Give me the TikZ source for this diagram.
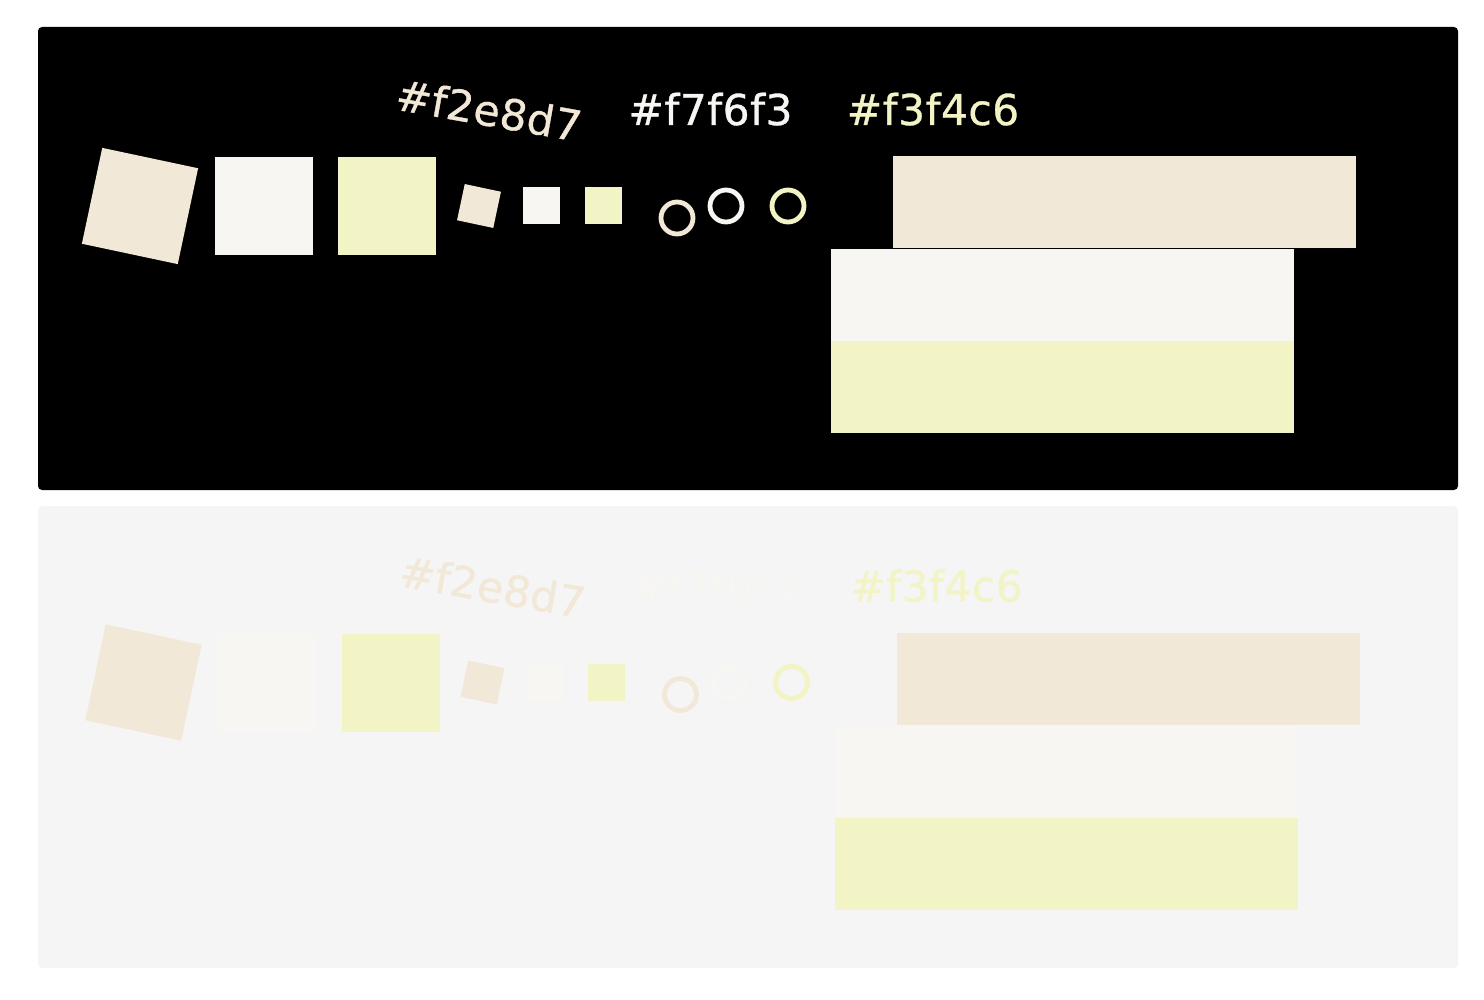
\documentclass[tikz,border=0pt]{standalone}
\usepackage{fontspec}
\setmainfont{DejaVu Sans}
\newfontfamily\hexfont[LetterSpace=1, FakeBold=0.8]{DejaVu Sans}
\definecolor{beige}{HTML}{F2E8D7}
\definecolor{offwhite}{HTML}{F7F6F3}
\definecolor{paleyellow}{HTML}{F3F4C6}
\definecolor{lightbg}{HTML}{F5F5F5}
\tikzset{
  sq/.style={inner sep=0pt, outer sep=0pt, minimum size=#1},
  ring/.style={circle, inner sep=0pt, minimum size=32pt, line width=4.8pt},
  hexlabel/.style={font=\hexfont\fontsize{42.5}{42.5}\selectfont, inner sep=0pt},
  bar/.style={inner sep=0pt, outer sep=0pt, minimum width=463pt, minimum height=92pt},
  panel/.style={rounded corners=4pt, draw=none}
}
\newcommand\swatchset[1]{%
  \node[bar, fill=beige] (#1barA) at (1124.5,202.5) {};
  \node[bar, fill=offwhite] (#1barB) at (1062.5,295) {};
  \node[bar, fill=paleyellow] (#1barC) at (1062.5,387) {};
  \node[sq=98pt, fill=beige, rotate=-12] (#1bigA) at (140,206) {};
  \node[sq=98pt, fill=offwhite] (#1bigB) at (263.5,206) {};
  \node[sq=98pt, fill=paleyellow] (#1bigC) at (387,206) {};
  \node[sq=37pt, fill=beige, rotate=-12] (#1smA) at (479,206) {};
  \node[sq=37pt, fill=offwhite] (#1smB) at (541,205.5) {};
  \node[sq=37pt, fill=paleyellow] (#1smC) at (603,205.5) {};
  \node[ring, draw=beige] (#1ringA) at (677,218) {};
  \node[ring, draw=offwhite] (#1ringB) at (726,206) {};
  \node[ring, draw=paleyellow] (#1ringC) at (788,206) {};
  \node[hexlabel, text=beige, rotate=-10] (#1lblA) at (489,110) {\#f2e8d7};
  \node[hexlabel, text=offwhite, anchor=base] (#1lblB) at (710.5,125) {\#f7f6f3};
  \node[hexlabel, text=paleyellow, anchor=base] (#1lblC) at (933,125) {\#f3f4c6};
}
\begin{document}
\begin{tikzpicture}[x=1pt, y=-1pt]
  \useasboundingbox[fill=white] (0,0) rectangle (1484,1000);
  \fill[panel, black] (38,27) rectangle (1458,490);
  \fill[panel, lightbg] (38,506) rectangle (1458,968);
  \swatchset{top}
  \begin{scope}[shift={(3.5,476.5)}]
    \swatchset{bot}
  \end{scope}
\end{tikzpicture}
\end{document}
